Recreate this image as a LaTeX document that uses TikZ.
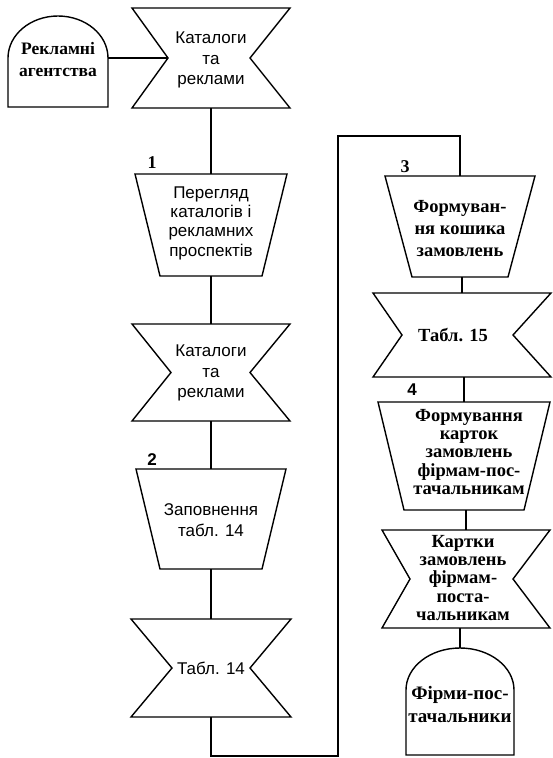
\documentclass[tikz,border=0pt]{standalone}
\usepackage{fontspec}
\setmainfont{Liberation Serif}
\setsansfont{Liberation Sans}
\usetikzlibrary{calc}
\newcommand*{\DocShape}[7]{% #1 = name, #2/#3 = x left/right, #4/#5 = y top/bottom, #6/#7 = notch left/right
\pgfmathsetmacro{\xmid}{(#2+#3)/2}
\pgfmathsetmacro{\ymid}{(#4+#5)/2}
\draw [boxline] (#2,#4) -- (#3,#4) -- (#3-#7,\ymid) -- (#3,#5)
-- (#2,#5) -- (#2+#6,\ymid) -- cycle;
\coordinate (#1-n) at (\xmid,#4);
\coordinate (#1-s) at (\xmid,#5);
\coordinate (#1-w) at (#2+#6,\ymid);
}
\newcommand*{\TrapShape}[6]{% #1 = name, #2 = x centre, #3/#4 = y top/bottom, #5/#6 = half width top/bottom
\draw [boxline] (#2-#5,#3) -- (#2+#5,#3) -- (#2+#6,#4) -- (#2-#6,#4) -- cycle;
\coordinate (#1-n) at (#2,#3);
\coordinate (#1-s) at (#2,#4);
}
\newcommand*{\ArchShape}[6]{% #1 = name, #2/#3 = x left/right, #4 = y spring, #5/#6 = y top/bottom
\pgfmathsetmacro{\xmid}{(#2+#3)/2}
\draw [boxline] (#2,#6) -- (#2,#4)
arc [start angle=180, end angle=360, x radius=(#3-#2)/2, y radius=#4-#5]
-- (#3,#6) -- cycle;
\coordinate (#1-n) at (\xmid,#5);
\coordinate (#1-e) at (#3,#4);
}
\tikzset{
boxline/.style={draw, line width=1.4pt},
sanstext/.style={align=center, inner sep=0pt, font=\sffamily\fontsize{17}{20.5}\selectfont},
seriftext/.style={align=center, inner sep=0pt, font=\bfseries\fontsize{18.5}{22}\selectfont},
smalltext/.style={align=center, inner sep=0pt, font=\bfseries\fontsize{18.5}{18.2}\selectfont},
numlabel/.style={inner sep=0pt, font=\bfseries\fontsize{18}{18}\selectfont}
}

\begin{document}
\begin{tikzpicture}[x=1pt, y=-1pt, line join=miter]

\useasboundingbox (0,0) rectangle (553,758);

% left column
\ArchShape{agents}{8}{108}{58}{16}{107}
\DocShape{cat1}{132}{290}{8}{108}{36}{40}
\TrapShape{trap1}{211}{174}{276}{76}{51}
\DocShape{cat2}{132}{290}{324}{421}{39}{40}
\TrapShape{trap2}{211}{469}{569}{75}{51}
\DocShape{tab14}{131}{291}{619}{717}{41}{41}

% right column
\TrapShape{trap3}{460}{176}{277}{75}{48}
\DocShape{tab15}{373}{551}{293}{377}{29}{38}
\TrapShape{trap4}{464}{402}{510}{86}{60}
\DocShape{cards}{382}{550}{530}{628}{28}{37}
\ArchShape{sup}{406}{514}{690}{648}{755}

\node [seriftext, font=\bfseries\fontsize{17.5}{22}\selectfont] (agentstext) at (58,60) {Рекламні\\агентства};
\node [sanstext] (cat1text) at (211,60) {Каталоги\\та\\реклами};
\node [sanstext, font=\sffamily\fontsize{17}{19.3}\selectfont] (trap1text) at (211,223) {Перегляд\\каталогів і\\рекламних\\проспектів};
\node [sanstext] (cat2text) at (211,373) {Каталоги\\та\\реклами};
\node [sanstext] (trap2text) at (211,520) {Заповнення\\табл. 14};
\node [sanstext] (tab14text) at (211,668) {Табл. 14};
\node [seriftext] (trap3text) at (460,229) {Формуван-\\ня кошика\\замовлень};
\node [seriftext] (tab15text) at (453,335) {Табл. 15};
\node [smalltext] (trap4text) at (469,452) {Формування\\карток\\замовлень\\фірмам-пос-\\тачальникам};
\node [smalltext] (cardstext) at (463,578) {Картки\\замовлень\\фірмам-\\поста-\\чальникам};
\node [seriftext, font=\bfseries\fontsize{19}{23}\selectfont] (suptext) at (460,704) {Фірми-пос-\\тачальники};

\node [numlabel] (num1) at (152,163) {1};
\node [numlabel, font=\sffamily\bfseries\fontsize{17}{17}\selectfont] (num2) at (152,460) {2};
\node [numlabel] (num3) at (405,167) {3};
\node [numlabel, font=\sffamily\bfseries\fontsize{17}{17}\selectfont] (num4) at (412,390) {4};

% connectors
\draw [boxline] (agents-e) -- (cat1-w);
\foreach \a/\b in {cat1/trap1, trap1/cat2, cat2/trap2, trap2/tab14,
trap3/tab15, tab15/trap4, trap4/cards, cards/sup}
\draw [boxline] (\b-n |- \a-s) -- (\b-n);
\coordinate (turnb) at (338,756);
\coordinate (turnt) at (338,136);
\draw [boxline] (tab14-s) |- (turnb) -- (turnt) -| (trap3-n);

\end{tikzpicture}
\end{document}
